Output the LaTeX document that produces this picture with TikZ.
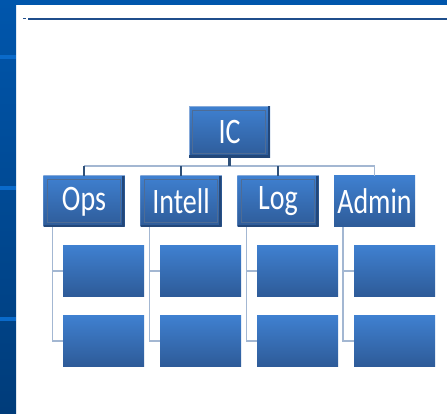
\documentclass[tikz,border=0pt]{standalone}
\usepackage{fontspec}
\usepackage{graphicx}
\setmainfont{Carlito}
\usetikzlibrary{calc}
\definecolor{stripA}{HTML}{0056AC}
\definecolor{stripB}{HTML}{003C7A}
\definecolor{stripband}{HTML}{0A6ACA}
\definecolor{boxtop}{HTML}{3F80D0}
\definecolor{boxbot}{HTML}{2E5B98}
\definecolor{bevdark}{HTML}{22477A}
\definecolor{bevlight}{HTML}{86AADA}
\definecolor{conlight}{HTML}{A3B7D2}
\definecolor{condark}{HTML}{2F5079}
\definecolor{rule}{HTML}{1F4E8C}
\tikzset{
  plainbox/.style={rectangle, inner sep=0pt, minimum width=81pt, minimum height=51pt,
    top color=boxtop, bottom color=boxbot, draw=none, text=white,
    font=\fontsize{28}{30}\selectfont},
  bevbox/.style={plainbox,
    path picture={
      \draw[bevlight, line width=1pt] (path picture bounding box.south west) -- (path picture bounding box.north west) -- (path picture bounding box.north east);
      \draw[bevdark, line width=2.5pt] ([shift={(0pt,1.2pt)}]path picture bounding box.south west) -- ([shift={(-1.2pt,1.2pt)}]path picture bounding box.south east) -- ([shift={(-1.2pt,0pt)}]path picture bounding box.north east);
      \draw[bevdark!80, line width=0.8pt] ([shift={(3.5pt,-3.5pt)}]path picture bounding box.north west) rectangle ([shift={(-4.5pt,4.5pt)}]path picture bounding box.south east);
    }},
  lightcon/.style={draw=conlight, line width=1.4pt},
  darkcon/.style={draw=condark, line width=2.8pt},
  txt/.style={}
}
\newcommand{\tall}[1]{\scalebox{1}[1.28]{#1}}
\begin{document}
\begin{tikzpicture}[x=1pt,y=-1pt]
\useasboundingbox (0,0) rectangle (447,414);
\fill[white] (0,0) rectangle (447,414);
% frame strips
\shade[top color=stripA, bottom color=stripB] (0,0) rectangle (16,414);
\fill[stripA] (0,0) rectangle (447,5);
\fill[stripband] (0,55) rectangle (16,59);
\fill[stripband] (0,186) rectangle (16,190);
\fill[stripband] (0,317) rectangle (16,321);
\draw[rule, line width=1.2pt] (28,19) -- (447,19);
\draw[rule, line width=1pt] (23,19) -- (26,19);
% nodes
\node[bevbox] (IC) at (229.5,132) {\tall{IC}};
\node[bevbox] (Ops) at (84,201.5) {\tall{Ops}};
\node[bevbox] (Intell) at (181,201.5) {\tall{Intell}};
\node[bevbox] (Log) at (278,201.5) {\tall{Log}};
\node[plainbox] (Admin) at (374.5,201.5) {\tall{Admin}};
\foreach \n/\x in {O/103.5, I/200.5, L/297.5, A/394.5}{
  \node[plainbox] (\n1) at (\x,271) {};
  \node[plainbox] (\n2) at (\x,341) {};
}
\coordinate (bus) at (0,166);
% connectors
\draw[lightcon] (Ops.north |- bus) -- (Admin.north |- bus) -- (Admin.north);
\draw[darkcon] (IC.south) -- (IC.south |- bus);
\draw[darkcon] (Ops.north) -- (Ops.north |- bus);
\draw[darkcon] (Intell.north) -- (Intell.north |- bus);
\draw[darkcon] (Log.north) -- (Log.north |- bus);
\foreach \p/\n in {Ops/O, Intell/I, Log/L, Admin/A}{
  \draw[lightcon] ($(\p.south west)+(9,0)$) |- (\n1.west);
  \draw[lightcon] ($(\p.south west)+(9,0)$) |- (\n2.west);
}
\end{tikzpicture}
\end{document}
